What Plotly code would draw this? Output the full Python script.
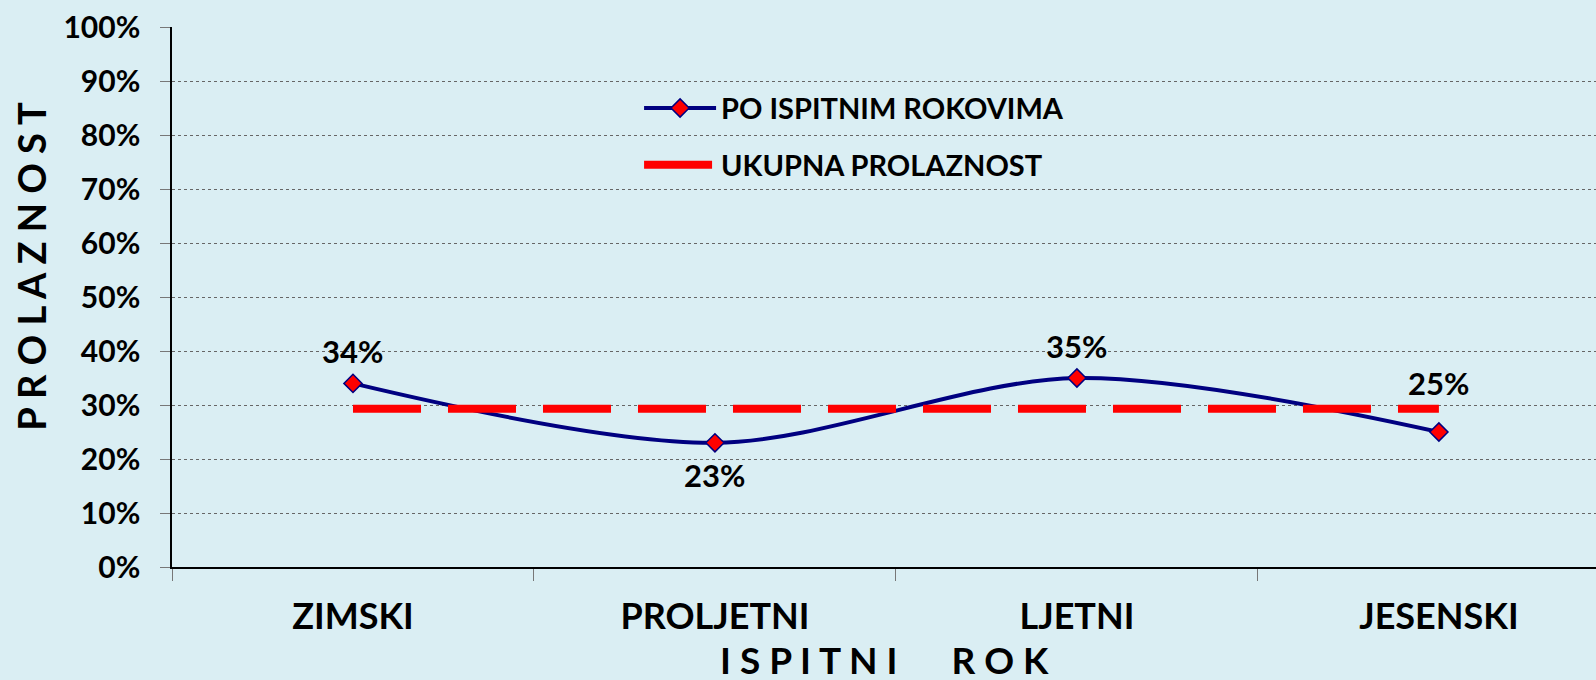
"""Prolaznost po ispitnim rokovima - line chart."""

import plotly.graph_objects as go

ROKOVI = ["ZIMSKI", "PROLJETNI", "LJETNI", "JESENSKI"]
PO_ROKOVIMA = [0.34, 0.23, 0.35, 0.25]
UKUPNA = [0.293, 0.293, 0.293, 0.293]
Y_TICKS = [0, 0.1, 0.2, 0.3, 0.4, 0.5, 0.6, 0.7, 0.8, 0.9, 1.0]

BG = "#DAEEF3"
FONT = "Lato"
NB = "\u00a0"

fig = go.Figure()

fig.add_trace(
    go.Scatter(
        x=ROKOVI,
        y=PO_ROKOVIMA,
        name="PO ISPITNIM ROKOVIMA",
        legendgroup="a",
        mode="lines+markers",
        line=dict(color="#000080", width=4, shape="spline", smoothing=0.9),
        marker=dict(symbol="diamond", size=14, color="#FF0000",
                    line=dict(color="#000080", width=1.5)),
    )
)
fig.add_trace(
    go.Scatter(
        x=ROKOVI,
        y=UKUPNA,
        name="UKUPNA PROLAZNOST",
        legendgroup="b",
        mode="lines",
        line=dict(color="#FF0000", width=8, dash="68px,27px"),
    )
)

# data labels, shifted above / below each point
label_shift = [32, -32, 32, 49]
for rok, val, dy in zip(ROKOVI, PO_ROKOVIMA, label_shift):
    fig.add_annotation(
        x=rok, y=val, text=f"{val:.0%}", showarrow=False, yshift=dy,
        font=dict(family=FONT, size=31, color="black", weight=700),
    )

# axis titles
fig.add_annotation(
    text=NB.join("PROLAZNOST"),
    xref="paper", yref="paper", x=-0.099, y=0.556, textangle=-90,
    xanchor="center", yanchor="middle",
    showarrow=False, font=dict(family=FONT, size=38, color="black", weight=700),
)
fig.add_annotation(
    text=NB.join("ISPITNI") + NB * 6 + NB.join("ROK"),
    xref="paper", yref="paper", x=0.5, y=-0.171,
    xanchor="center", yanchor="middle",
    showarrow=False, font=dict(family=FONT, size=37, color="black", weight=700),
)

fig.update_layout(
    width=1596,
    height=680,
    margin=dict(l=172, r=0, t=27, b=113),
    paper_bgcolor=BG,
    plot_bgcolor=BG,
    font=dict(family=FONT, color="black"),
    showlegend=True,
    legend=dict(
        x=0.328, y=0.897, xanchor="left", yanchor="top",
        bgcolor="rgba(0,0,0,0)",
        font=dict(family=FONT, size=29, color="black", weight=700),
        tracegroupgap=16,
        itemwidth=72,
    ),
)

fig.update_xaxes(
    type="category",
    range=[-0.5, 3.434],
    showline=True, linecolor="black", linewidth=1.5,
    ticks="outside", tickson="boundaries", ticklen=12, tickcolor="#777777",
    ticklabelstandoff=17,
    showgrid=False, zeroline=False,
    tickfont=dict(family=FONT, size=36, color="black", weight=700),
)
fig.update_yaxes(
    range=[0, 1],
    tickvals=Y_TICKS,
    tickformat=".0%",
    showline=True, linecolor="black", linewidth=1.5,
    ticks="outside", ticklen=10, tickcolor="#777777",
    ticklabelstandoff=14,
    showgrid=True, gridcolor="#666666", gridwidth=1, griddash="dot",
    zeroline=False,
    tickfont=dict(family=FONT, size=30, color="black", weight=700),
)

fig.write_html(
    "out.html",
    config={"displayModeBar": False},
    post_script="document.body.style.margin='0';",
)
